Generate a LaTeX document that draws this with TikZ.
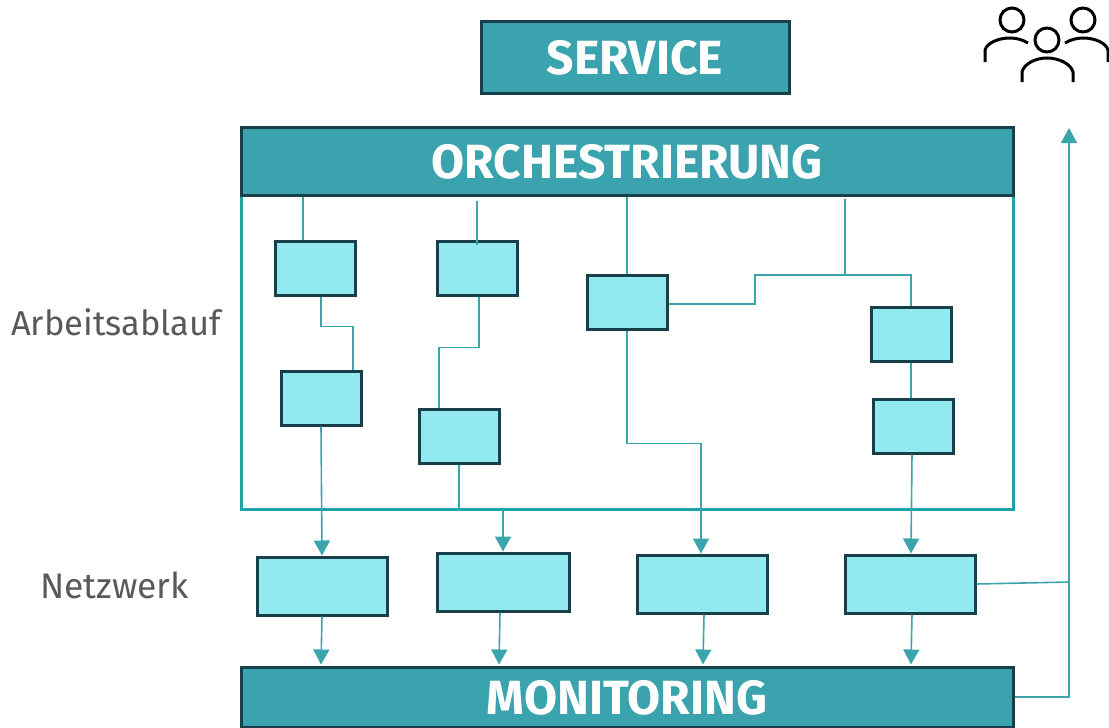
\documentclass[tikz,border=0pt]{standalone}
\usepackage{fontspec}
\setmainfont{Fira Sans}
\usetikzlibrary{arrows.meta}
\definecolor{tealbar}{HTML}{3BA3AD}
\definecolor{tealedge}{HTML}{17404A}
\definecolor{tealbox}{HTML}{92E9EF}
\definecolor{teallink}{HTML}{3BA5AD}
\definecolor{tealframe}{HTML}{1FA2A8}
\definecolor{sidetext}{HTML}{595959}
\tikzset{
	bar/.style={draw=tealedge, line width=3pt, fill=tealbar, inner sep=0pt, text=white, text height=35pt, text depth=0pt, font=\fontsize{48}{48}\selectfont\bfseries},
	task/.style={draw=tealedge, line width=3pt, fill=tealbox, inner sep=0pt, minimum width=80pt, minimum height=54pt},
	net/.style={task, minimum width=130pt, minimum height=58pt},
	link/.style={draw=teallink, line width=1.6pt},
	flow/.style={link, -{Triangle[width=16pt,length=15pt]}},
	side/.style={text=sidetext, font=\fontsize{34.5}{34.5}\selectfont},
	person/.style={draw=black, line width=3pt}
}
\begin{document}
\begin{tikzpicture}[x=1pt, y=-1pt]
	\useasboundingbox (0,0) rectangle (1109,728);
	% Rahmen
	\node[draw=tealframe, line width=3pt, inner sep=0pt, minimum width=772pt, minimum height=314pt] (frame) at (627,352) {};
	% Balken
	\node[bar, minimum width=308pt, minimum height=72pt] (service) at (635,57) {SERVICE};
	\node[bar, minimum width=772pt, minimum height=68pt] (orch) at (627,161) {ORCHESTRIERUNG};
	\node[bar, minimum width=772pt, minimum height=60pt] (mon) at (627,697) {MONITORING};
	% Arbeitsablauf
	\node[task] (taskA) at (315,268) {};
	\node[task] (taskB) at (321,398) {};
	\node[task] (taskC) at (477,268) {};
	\node[task] (taskD) at (459,436) {};
	\node[task] (taskE) at (627,302) {};
	\node[task] (taskF) at (911,334) {};
	\node[task] (taskG) at (913,426) {};
	% Netzwerk
	\node[net] (netA) at (322,586) {};
	\node[net, minimum width=132pt] (netB) at (503,582) {};
	\node[net] (netC) at (702,584) {};
	\node[net] (netD) at (910,584) {};
	% Beschriftung
	\node[side] (lblwork) at (116,322) {Arbeitsablauf};
	\node[side, font=\fontsize{35.5}{35.5}\selectfont] (lblnet) at (114.5,585) {Netzwerk};
	% freie Enden
	\coordinate (stubC) at (477,201);
	\coordinate (stubF) at (845,199);
	\coordinate (bend) at (755,275);
	\coordinate (rise) at (1069,582);
	\coordinate (top) at (1069,128);
	% Verbindungen oben
	\draw[link] (orch.south -| 303,0) -- ([xshift=-12pt]taskA.north);
	\draw[link] (stubC) -- ([yshift=-5pt]taskC.north);
	\draw[link] ([xshift=6pt]taskA.south) -- ++(0,30) -| ([xshift=32pt]taskB.north);
	\draw[link] ([xshift=2pt]taskC.south) -- ++(0,51) -| ([xshift=-20pt]taskD.north);
	\draw[link] (orch.south -| taskE.north) -- (taskE.north);
	\draw[link] ([yshift=-2pt]taskE.east) -| (bend) -| (taskF.north);
	\draw[link] (stubF) -- (stubF |- bend);
	\draw[link] (taskF.south) -- (taskF.south |- taskG.north);
	% Verbindungen nach unten
	\draw[flow] (taskB.south) -- (netA.north);
	\draw[link] (taskD.south) -- (frame.south -| taskD.south);
	\draw[flow] (frame.south -| netB.north) -- (netB.north);
	\draw[flow] (taskE.south) -- ++(0,113) -| ([xshift=-1pt]netC.north);
	\draw[flow] ([xshift=-1pt]taskG.south) -- ([xshift=1pt]netD.north);
	\draw[flow] (netA.south) -- ([xshift=-1pt,yshift=1pt]mon.north -| netA.south);
	\draw[flow] ([xshift=-3pt]netB.south) -- ([xshift=-4pt,yshift=1pt]mon.north -| netB.south);
	\draw[flow] ([xshift=2pt]netC.south) -- ([xshift=1pt,yshift=1pt]mon.north -| netC.south);
	\draw[flow] ([xshift=2pt]netD.south) -- ([xshift=1pt,yshift=1pt]mon.north -| netD.south);
	% Rueckkanal
	\draw[link] (netD.east) -- (rise);
	\draw[flow] (mon.east) -| (top);
	% Personen
	\draw[person] (1012,20) circle (12);
	\draw[person] (1083,20) circle (12);
	\draw[person] (1047,40) circle (12);
	\draw[person] (985,62) -- (985,50) .. controls (987,43) and (998,38) .. (1010,38) .. controls (1017,38) and (1023,40) .. (1028,43);
	\draw[person] (1108,62) -- (1108,50) .. controls (1106,43) and (1095,38) .. (1083,38) .. controls (1076,38) and (1070,40) .. (1065,43);
	\draw[person] (1022,82) -- (1022,72) .. controls (1024,64) and (1035,58) .. (1047,58) .. controls (1059,58) and (1071,64) .. (1073,72) -- (1073,82);
\end{tikzpicture}
\end{document}
